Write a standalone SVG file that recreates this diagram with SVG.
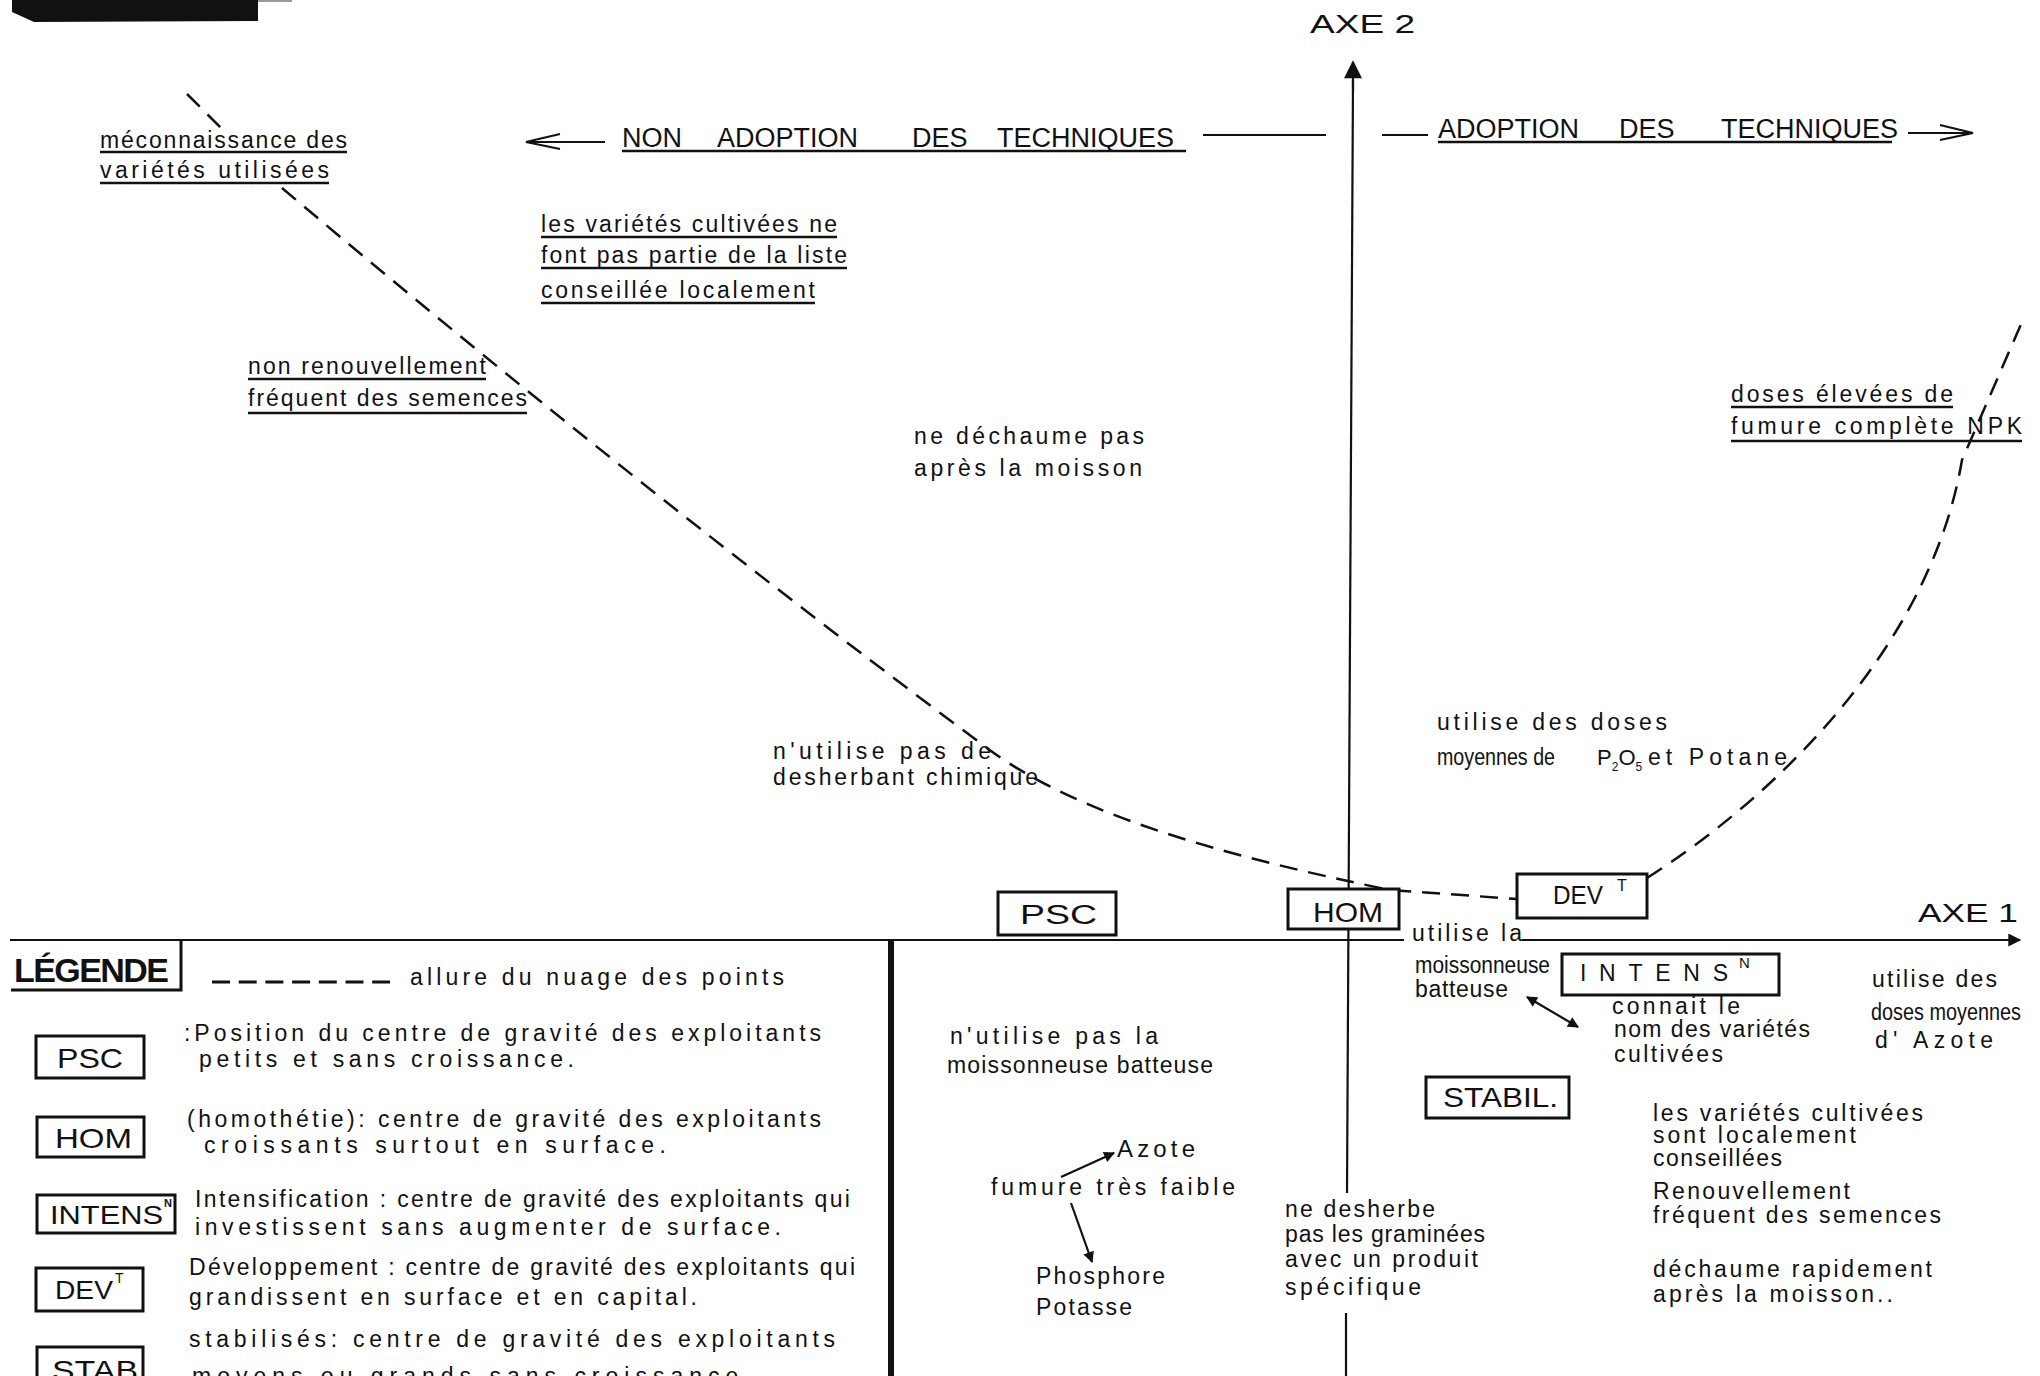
<svg xmlns="http://www.w3.org/2000/svg" width="2040" height="1376" viewBox="0 0 2040 1376">
<style>
text{font-family:"Liberation Sans",Arial,sans-serif;fill:#111}
.t{font-size:23px}
.cap{font-size:27px}
.box{fill:#fff;stroke:#111;stroke-width:3}
.dash{fill:none;stroke:#111;stroke-width:2.5;stroke-dasharray:18 11}
.ln{fill:none;stroke:#111;stroke-width:2.2}
.ul{stroke:#111;stroke-width:2.5}
</style>
<defs>
<marker id="triL" viewBox="0 0 10 10" refX="9" refY="5" markerWidth="24" markerHeight="18" markerUnits="userSpaceOnUse" orient="auto-start-reverse"><path d="M0,0 L10,5 L0,10 z" fill="#111"/></marker>
<marker id="triM" viewBox="0 0 10 10" refX="9" refY="5" markerWidth="22" markerHeight="13" markerUnits="userSpaceOnUse" orient="auto-start-reverse"><path d="M0,0 L10,5 L0,10 z" fill="#111"/></marker>
<marker id="triS" viewBox="0 0 10 10" refX="9" refY="5" markerWidth="17" markerHeight="11" markerUnits="userSpaceOnUse" orient="auto-start-reverse"><path d="M0,0 L10,5 L0,10 z" fill="#111"/></marker>
</defs>
<rect width="2040" height="1376" fill="#fff"/>
<polygon points="12,0 258,0 258,21 34,22 12,12" fill="#111"/>
<rect x="258" y="0" width="34" height="2" fill="#999"/>

<g id="connectors">
  <line class="ln" x1="1353" y1="80" x2="1347" y2="1193"/>
  <path class="ln" d="M1353,90 L1353,62" marker-end="url(#triL)"/>
  <line class="ln" x1="1346" y1="1313" x2="1346" y2="1376"/>
  <line class="ln" x1="10" y1="940" x2="1404" y2="940"/>
  <line class="ln" x1="1522" y1="940" x2="2020" y2="940" marker-end="url(#triM)"/>
  <path class="dash" d="M187,94 L223,130"/>
  <path class="dash" d="M282,188 Q640,490 991,751 C1080,815 1220,855 1390,890 L1517,899"/>
  <path class="dash" d="M1647,878 C1770,800 1930,650 1962,460 L2022,322"/>
  <path class="ln" d="M605,142 L526,142 M560,134 L526,142 L560,149" stroke-width="2.6"/>
  <line class="ln" x1="1203" y1="135" x2="1326" y2="135" stroke-width="2.6"/>
  <line class="ln" x1="1382" y1="135" x2="1428" y2="135" stroke-width="2.6"/>
  <path class="ln" d="M1908,133 L1973,133 M1940,125 L1973,133 L1940,140" stroke-width="2.6"/>
  <line class="ln" x1="1527" y1="997" x2="1578" y2="1027" stroke-width="3" marker-start="url(#triS)" marker-end="url(#triS)"/>
  <line class="ln" x1="1061" y1="1177" x2="1114" y2="1153" stroke-width="3" marker-end="url(#triS)"/>
  <line class="ln" x1="1071" y1="1203" x2="1092" y2="1262" stroke-width="3" marker-end="url(#triS)"/>
</g>

<g id="legend-frame">
  <path d="M11,990 L181,990 L181,941" fill="none" stroke="#111" stroke-width="3"/>
  <line x1="891" y1="941" x2="891" y2="1376" stroke="#111" stroke-width="6"/>
  <text x="14" y="982" font-size="34" font-weight="bold" textLength="155">LÉGENDE</text>
  <line x1="212" y1="982" x2="390" y2="982" stroke="#111" stroke-width="3" stroke-dasharray="18 8.7"/>
  <text class="t" x="410" y="985" textLength="374">allure du nuage des points</text>
</g>

<g id="axis-labels">
  <text x="1310" y="33" font-size="25" textLength="105" lengthAdjust="spacingAndGlyphs">AXE 2</text>
  <text x="1918" y="922" font-size="26" textLength="100" lengthAdjust="spacingAndGlyphs">AXE 1</text>
  <text class="cap" y="147" font-size="28"><tspan x="622">NON</tspan><tspan x="717">ADOPTION</tspan><tspan x="912">DES</tspan><tspan x="997">TECHNIQUES</tspan></text>
  <line class="ul" x1="622" y1="151" x2="1186" y2="151"/>
  <text class="cap" y="138"><tspan x="1438">ADOPTION</tspan><tspan x="1619">DES</tspan><tspan x="1721">TECHNIQUES</tspan></text>
  <line class="ul" x1="1438" y1="142" x2="1892" y2="142"/>
</g>

<g id="node-PSC"><rect class="box" x="998" y="892" width="118" height="43"/><text x="1020" y="924" font-size="27" textLength="77" lengthAdjust="spacingAndGlyphs">PSC</text></g>
<g id="node-HOM"><rect class="box" x="1288" y="889" width="111" height="40"/><text x="1313" y="922" font-size="28" textLength="70" lengthAdjust="spacingAndGlyphs">HOM</text></g>
<g id="node-DEV"><rect class="box" x="1517" y="874" width="130" height="44"/><text x="1553" y="904" font-size="25" textLength="50" lengthAdjust="spacingAndGlyphs">DEV</text><text x="1617" y="891" font-size="16">T</text></g>
<g id="node-INTENS"><rect class="box" x="1562" y="954" width="217" height="41"/><text x="1580" y="981" font-size="23" textLength="148">INTENS</text><text x="1739" y="968" font-size="15">N</text></g>
<g id="node-STABIL"><rect class="box" x="1426" y="1077" width="143" height="41"/><text x="1443" y="1107" font-size="27" textLength="115" lengthAdjust="spacingAndGlyphs">STABIL.</text></g>

<g id="label-meconnaissance">
  <text class="t" x="100" y="148" textLength="247">méconnaissance des</text>
  <line class="ul" x1="100" y1="152" x2="347" y2="152"/>
  <text class="t" x="100" y="178" textLength="229">variétés utilisées</text>
  <line class="ul" x1="100" y1="183" x2="329" y2="183"/>
</g>
<g id="label-liste">
  <text class="t" x="541" y="232" textLength="296">les variétés cultivées ne</text>
  <line class="ul" x1="541" y1="237" x2="837" y2="237"/>
  <text class="t" x="541" y="263" textLength="306">font pas partie de la liste</text>
  <line class="ul" x1="541" y1="268" x2="847" y2="268"/>
  <text class="t" x="541" y="298" textLength="274">conseillée localement</text>
  <line class="ul" x1="541" y1="303" x2="815" y2="303"/>
</g>
<g id="label-renouvellement">
  <text class="t" x="248" y="374" textLength="238">non renouvellement</text>
  <line class="ul" x1="248" y1="379" x2="486" y2="379"/>
  <text class="t" x="248" y="406" textLength="279">fréquent des semences</text>
  <line class="ul" x1="248" y1="413" x2="527" y2="413"/>
</g>
<g id="label-dechaume">
  <text class="t" x="914" y="444" textLength="230">ne déchaume pas</text>
  <text class="t" x="914" y="476" textLength="228">après la moisson</text>
</g>
<g id="label-desherbant">
  <text class="t" x="773" y="759" textLength="218">n'utilise pas de</text>
  <text class="t" x="773" y="785" textLength="265">desherbant chimique</text>
</g>
<g id="label-npk">
  <text class="t" x="1731" y="402" textLength="222">doses élevées de</text>
  <line class="ul" x1="1731" y1="407" x2="1953" y2="407"/>
  <text class="t" x="1731" y="434" textLength="291">fumure complète NPK</text>
  <line class="ul" x1="1731" y1="441" x2="2022" y2="441"/>
</g>
<g id="label-p2o5">
  <text class="t" x="1437" y="730" textLength="230">utilise des doses</text>
  <text class="t" x="1437" y="765" textLength="118" lengthAdjust="spacingAndGlyphs">moyennes de</text>
  <text x="1597" y="765" font-size="22">P<tspan font-size="12" dy="6">2</tspan><tspan dy="-6">O</tspan><tspan font-size="12" dy="6">5</tspan></text>
  <text class="t" x="1648" y="765" textLength="139">et Potane</text>
</g>
<g id="label-moissonneuse">
  <text class="t" x="1412" y="941" textLength="110">utilise la</text>
  <text class="t" x="1415" y="973" textLength="135" lengthAdjust="spacingAndGlyphs">moissonneuse</text>
  <text class="t" x="1415" y="997" textLength="93">batteuse</text>
</g>
<g id="label-connait">
  <text class="t" x="1612" y="1014" textLength="128">connait le</text>
  <text class="t" x="1614" y="1037" textLength="196">nom des variétés</text>
  <text class="t" x="1614" y="1062" textLength="109">cultivées</text>
</g>
<g id="label-azote-doses">
  <text class="t" x="1872" y="987" textLength="125">utilise des</text>
  <text class="t" x="1871" y="1020" textLength="150" lengthAdjust="spacingAndGlyphs">doses moyennes</text>
  <text class="t" x="1875" y="1048" textLength="118">d' Azote</text>
</g>
<g id="label-stabil">
  <text class="t" x="1653" y="1121" textLength="270">les variétés cultivées</text>
  <text class="t" x="1653" y="1143" textLength="203">sont localement</text>
  <text class="t" x="1653" y="1166" textLength="129">conseillées</text>
  <text class="t" x="1653" y="1199" textLength="197">Renouvellement</text>
  <text class="t" x="1653" y="1223" textLength="288">fréquent des semences</text>
  <text class="t" x="1653" y="1277" textLength="279">déchaume rapidement</text>
  <text class="t" x="1653" y="1302" textLength="240">après la moisson..</text>
</g>
<g id="label-psc">
  <text class="t" x="950" y="1044" textLength="208">n'utilise pas la</text>
  <text class="t" x="947" y="1073" textLength="266">moissonneuse batteuse</text>
  <text x="1117" y="1157" font-size="24" textLength="78">Azote</text>
  <text class="t" x="991" y="1195" textLength="244">fumure très faible</text>
  <text class="t" x="1036" y="1284" textLength="129">Phosphore</text>
  <text class="t" x="1036" y="1315" textLength="96">Potasse</text>
</g>
<g id="label-hom">
  <text class="t" x="1285" y="1217" textLength="150">ne desherbe</text>
  <text class="t" x="1285" y="1242" textLength="200">pas les graminées</text>
  <text class="t" x="1285" y="1267" textLength="193">avec un produit</text>
  <text class="t" x="1285" y="1295" textLength="136">spécifique</text>
</g>

<g id="legend-PSC"><rect class="box" x="36" y="1036" width="108" height="42"/><text x="57" y="1068" font-size="28" textLength="66" lengthAdjust="spacingAndGlyphs">PSC</text>
  <text class="t" x="184" y="1041" textLength="637">:Position du centre de gravité des exploitants</text>
  <text class="t" x="199" y="1067" textLength="375">petits et sans croissance.</text></g>
<g id="legend-HOM"><rect class="box" x="37" y="1117" width="107" height="40"/><text x="55" y="1148" font-size="28" textLength="77" lengthAdjust="spacingAndGlyphs">HOM</text>
  <text class="t" x="187" y="1127" textLength="634">(homothétie): centre de gravité des exploitants</text>
  <text class="t" x="204" y="1153" textLength="462">croissants surtout en surface.</text></g>
<g id="legend-INTENS"><rect class="box" x="37" y="1195" width="138" height="38"/><text x="50" y="1224" font-size="25" textLength="113" lengthAdjust="spacingAndGlyphs">INTENS</text><text x="164" y="1207" font-size="11" font-weight="bold">N</text>
  <text class="t" x="195" y="1207" textLength="655">Intensification : centre de gravité des exploitants qui</text>
  <text class="t" x="195" y="1235" textLength="586">investissent sans augmenter de surface.</text></g>
<g id="legend-DEV"><rect class="box" x="36" y="1268" width="107" height="43"/><text x="55" y="1299" font-size="25" textLength="58" lengthAdjust="spacingAndGlyphs">DEV</text><text x="115" y="1283" font-size="14">T</text>
  <text class="t" x="189" y="1275" textLength="666">Développement : centre de gravité des exploitants qui</text>
  <text class="t" x="189" y="1305" textLength="508">grandissent en surface et en capital.</text></g>
<g id="legend-STAB"><rect class="box" x="37" y="1347" width="106" height="50"/><text x="52" y="1380" font-size="27" textLength="86" lengthAdjust="spacingAndGlyphs">STAB</text>
  <text class="t" x="189" y="1347" textLength="646">stabilisés: centre de gravité des exploitants</text>
  <text class="t" x="192" y="1384" textLength="571">moyens ou grands sans croissance .</text></g>
</svg>
